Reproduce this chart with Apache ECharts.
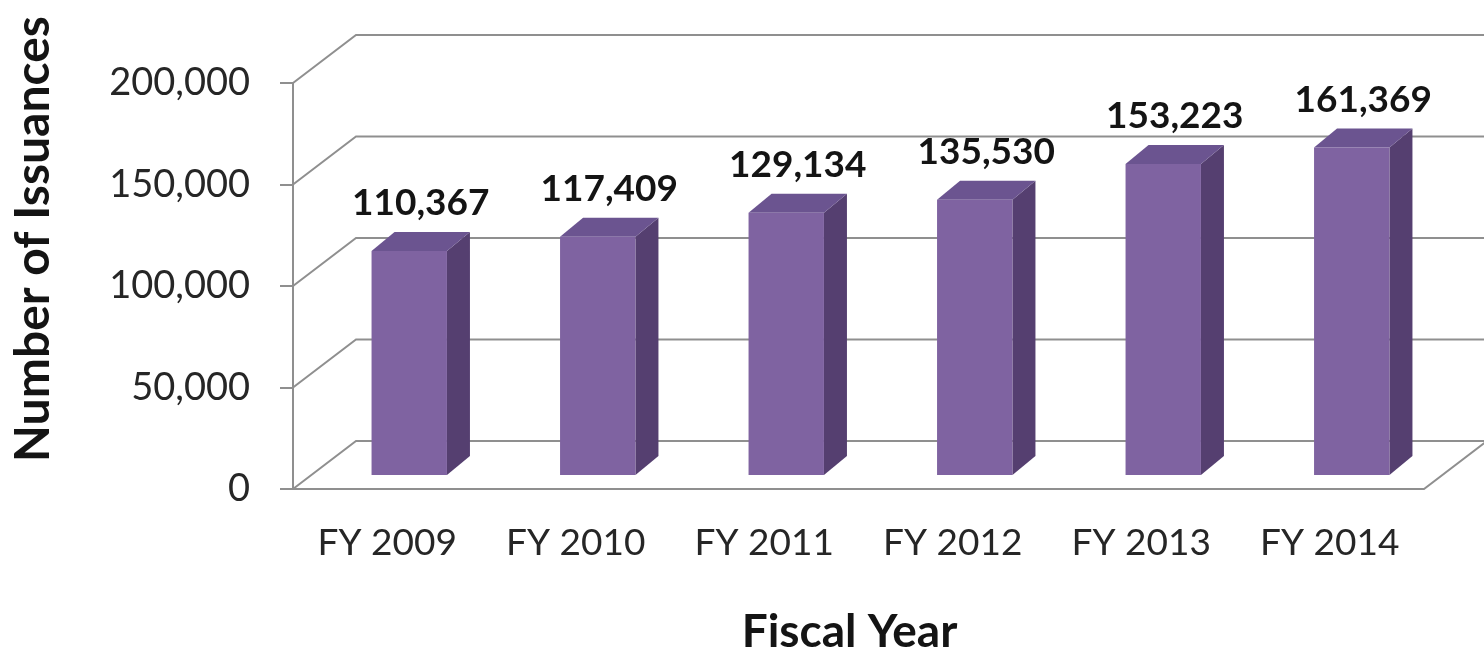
<!DOCTYPE html>
<html>
<head>
<meta charset="utf-8">
<script src="https://cdn.jsdelivr.net/npm/echarts@6/dist/echarts.min.js"></script>
<style>
  html, body { margin: 0; padding: 0; background: #ffffff; }
  #chart { width: 1484px; height: 650px; }
</style>
</head>
<body>
<div id="chart"></div>
<script>
// Issuances per fiscal year
const categories = ['FY 2009', 'FY 2010', 'FY 2011', 'FY 2012', 'FY 2013', 'FY 2014'];
const issuances = [110367, 117409, 129134, 135530, 153223, 161369];
const yTicks = [0, 50000, 100000, 150000, 200000];

const FONT = 'Lato, "Open Sans", sans-serif';
const GRID_COLOR = '#8f8f8f';

// oblique projection of the chart box: back wall offset and bar depth
const WALL_DX = 63, WALL_DY = -48;
const BAR_SHIFT_X = 22, BAR_SHIFT_Y = -14;
const BAR_DX = 23, BAR_DY = -19;
const BAR_RATIO = 0.40;

const fmt = v => v.toLocaleString('en-US');

const chart = echarts.init(document.getElementById('chart'));

// walls: one polyline per tick value (left wall diagonal + back wall line)
function renderWall(params, api) {
  const v = api.value(0);
  const band = api.size([1, 0])[0];
  const p0 = api.coord([0, v]);
  const pN = api.coord([categories.length - 1, v]);
  const xL = p0[0] - band / 2;
  const xR = pN[0] + band / 2;
  const y = p0[1];
  const style = { stroke: GRID_COLOR, lineWidth: 2, fill: null };
  const children = [{
    type: 'polyline',
    shape: { points: [[xL, y], [xL + WALL_DX, y + WALL_DY], [xR + WALL_DX, y + WALL_DY]] },
    style: style
  }];
  if (v === 0) {
    // floor front edge and right floor edge
    children.push({
      type: 'polyline',
      shape: { points: [[xL, y], [xR, y], [xR + WALL_DX, y + WALL_DY]] },
      style: style
    });
  }
  return { type: 'group', children: children };
}

// 3D bars: front face, top face, side face and value label
function renderBar(params, api) {
  const i = api.value(0);
  const v = api.value(1);
  const band = api.size([1, 0])[0];
  const base = api.coord([i, 0]);
  const top = api.coord([i, v]);
  const w = band * BAR_RATIO;
  const xl = base[0] - w / 2 + BAR_SHIFT_X;
  const xr = xl + w;
  const yb = base[1] + BAR_SHIFT_Y;
  const yt = top[1] + BAR_SHIFT_Y;
  return {
    type: 'group',
    children: [
      {
        type: 'polygon',
        shape: { points: [[xr, yt], [xr + BAR_DX, yt + BAR_DY], [xr + BAR_DX, yb + BAR_DY], [xr, yb]] },
        style: { fill: '#553f70' }
      },
      {
        type: 'polygon',
        shape: { points: [[xl, yt], [xl + BAR_DX, yt + BAR_DY], [xr + BAR_DX, yt + BAR_DY], [xr, yt]] },
        style: { fill: '#6b5490' }
      },
      {
        type: 'rect',
        shape: { x: xl, y: yt, width: w, height: yb - yt },
        style: { fill: '#7f63a1' }
      },
      {
        type: 'text',
        x: (xl + xr) / 2 + BAR_DX / 2,
        y: yt + BAR_DY - 10,
        style: {
          text: fmt(v),
          fill: '#141414',
          font: 'bold 37px ' + FONT,
          align: 'center',
          verticalAlign: 'bottom'
        }
      }
    ]
  };
}

chart.setOption({
  animation: false,
  backgroundColor: '#ffffff',
  grid: { left: 293, right: 60, top: 83, bottom: 161, containLabel: false, outerBoundsMode: 'none' },
  xAxis: {
    type: 'category',
    data: categories,
    axisLine: { show: false },
    axisTick: { show: false },
    axisLabel: { margin: 36, color: '#262626', fontFamily: FONT, fontSize: 37 },
    name: 'Fiscal Year',
    nameLocation: 'middle',
    nameGap: 120,
    nameTextStyle: { color: '#141414', fontFamily: FONT, fontSize: 46, fontWeight: 'bold', padding: [0, 18, 0, 0] }
  },
  yAxis: {
    type: 'value',
    min: 0,
    max: 200000,
    interval: 50000,
    axisLine: { show: true, lineStyle: { color: GRID_COLOR, width: 2 } },
    axisTick: { show: true, length: 13, lineStyle: { color: GRID_COLOR, width: 2 } },
    axisLabel: { margin: 43, color: '#262626', fontFamily: FONT, fontSize: 38, formatter: fmt },
    splitLine: { show: false }
  },
  graphic: [{
    type: 'text',
    x: 34,
    y: 239,
    rotation: Math.PI / 2,
    style: {
      text: 'Number of Issuances',
      fill: '#141414',
      font: 'bold 48px ' + FONT,
      align: 'center',
      verticalAlign: 'middle'
    }
  }],
  series: [
    {
      type: 'custom',
      renderItem: renderWall,
      data: yTicks.map(v => [v]),
      encode: { y: 0 },
      clip: false,
      silent: true,
      z: 1
    },
    {
      type: 'custom',
      renderItem: renderBar,
      data: issuances.map((v, i) => [i, v]),
      encode: { x: 0, y: 1 },
      clip: false,
      z: 2
    }
  ]
});
</script>
</body>
</html>
